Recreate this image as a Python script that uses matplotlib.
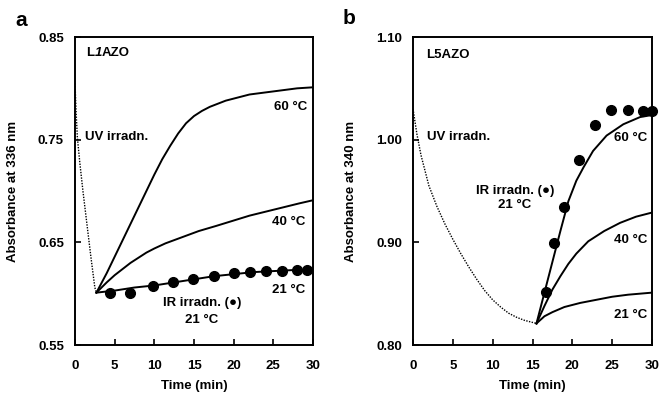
import matplotlib
matplotlib.use("Agg")
import matplotlib.pyplot as plt

plt.rcParams['font.family'] = ['Liberation Sans', 'DejaVu Sans']
plt.rcParams['font.weight'] = 'bold'

# ---- panel a: L1AZO, absorbance at 336 nm ----
a_uv_t = [0.0, 0.15, 0.3, 0.6, 1.0, 1.5, 2.0, 2.5, 2.7]
a_uv_v = [0.805, 0.775, 0.752, 0.728, 0.700, 0.668, 0.636, 0.606, 0.601]

a_60_t = [2.7, 4, 5, 6, 7, 8, 9, 10, 11, 12, 13, 14, 15, 16, 17, 18, 19, 20, 22, 25, 28, 30]
a_60_v = [0.601, 0.620, 0.636, 0.652, 0.668, 0.684, 0.700, 0.716, 0.731, 0.744,
          0.756, 0.766, 0.773, 0.778, 0.782, 0.785, 0.788, 0.790, 0.794, 0.797, 0.800, 0.801]

a_40_t = [2.7, 4, 5, 6, 7, 8, 9, 10, 11.4, 13.5, 15.6, 17.8, 19.9, 22, 24.1, 26.2, 28.3, 30]
a_40_v = [0.601, 0.611, 0.618, 0.624, 0.630, 0.635, 0.640, 0.644, 0.649, 0.655,
          0.661, 0.666, 0.671, 0.676, 0.680, 0.684, 0.688, 0.691]

a_21_t = [2.7, 5, 7.5, 10, 12.5, 15, 17.5, 20, 22.5, 25, 27.5, 30]
a_21_v = [0.601, 0.603, 0.606, 0.608, 0.611, 0.614, 0.617, 0.619, 0.621, 0.622, 0.623, 0.623]

a_ir_t = [4.4, 6.95, 9.8, 12.4, 14.9, 17.5, 20.1, 22.1, 24.1, 26.1, 28.0, 29.2]
a_ir_v = [0.601, 0.601, 0.607, 0.611, 0.614, 0.617, 0.620, 0.621, 0.622, 0.622, 0.623, 0.623]

# ---- panel b: L5AZO, absorbance at 340 nm ----
b_uv_t = [0, 0.5, 1, 2, 3, 4, 5, 6, 7, 8, 9, 10, 11, 12, 13, 14, 15, 15.5]
b_uv_v = [1.030, 1.005, 0.985, 0.955, 0.935, 0.918, 0.903, 0.889, 0.876, 0.864,
          0.853, 0.844, 0.837, 0.831, 0.827, 0.824, 0.822, 0.821]

b_60_t = [15.5, 16.5, 17.5, 18.5, 19.5, 20.5, 21.4, 22.6, 24.3, 26.4, 28.5, 30]
b_60_v = [0.821, 0.851, 0.881, 0.911, 0.940, 0.960, 0.973, 0.989, 1.004, 1.015, 1.022, 1.024]

b_40_t = [15.5, 16.5, 17.5, 18.5, 19.5, 20.5, 22, 24, 26, 28, 30]
b_40_v = [0.821, 0.838, 0.854, 0.867, 0.879, 0.889, 0.901, 0.911, 0.919, 0.925, 0.929]

b_21_t = [15.5, 16.5, 17.5, 19, 21, 23, 25, 27, 30]
b_21_v = [0.821, 0.828, 0.832, 0.837, 0.841, 0.844, 0.847, 0.849, 0.851]

b_ir_t = [16.65, 17.7, 18.9, 20.8, 22.9, 24.9, 26.95, 28.9, 30.0]
b_ir_v = [0.852, 0.899, 0.934, 0.980, 1.014, 1.029, 1.029, 1.028, 1.028]

x_ticks = [0, 5, 10, 15, 20, 25, 30]
a_yticks = [0.55, 0.65, 0.75, 0.85]
b_yticks = [0.80, 0.90, 1.00, 1.10]

W, H = 661, 396
fig = plt.figure(figsize=(W / 100, H / 100), dpi=100)
ax_a = fig.add_axes([75 / W, 51 / H, 238 / W, 308 / H])
ax_b = fig.add_axes([413 / W, 51 / H, 239 / W, 308 / H])


def style_axes(ax, yticks, ylabel):
    ax.set_xlim(0, 30)
    ax.set_ylim(yticks[0], yticks[-1])
    ax.set_xticks(x_ticks)
    ax.set_yticks(yticks)
    ax.set_yticklabels([f"{v:.2f}" for v in yticks])
    ax.tick_params(direction='in', length=4, width=1.2, labelsize=9.5)
    ax.tick_params(axis='y', pad=8)
    ax.tick_params(axis='x', pad=11)
    for s in ax.spines.values():
        s.set_linewidth(1.4)
    ax.set_xlabel('Time (min)', fontsize=9.5, fontweight='bold')
    ax.set_ylabel(ylabel, fontsize=9.5, fontweight='bold')
    ax.xaxis.set_label_coords(0.5, -0.115)
    ax.yaxis.set_label_coords(-0.235, 0.5)


def tag(ax, x, y, s, ha='left', **kw):
    ax.text(x, y, s, transform=ax.transAxes, ha=ha, va='center',
            fontsize=9.5, fontweight='bold', **kw)


# panel a
ax_a.plot(a_uv_t, a_uv_v, color='black', lw=1.0, ls=(0, (1, 1)))
ax_a.plot(a_60_t, a_60_v, color='black', lw=1.4)
ax_a.plot(a_40_t, a_40_v, color='black', lw=1.4)
ax_a.plot(a_21_t, a_21_v, color='black', lw=1.4)
ax_a.plot(a_ir_t, a_ir_v, 'o', color='black', ms=7, clip_on=False)
style_axes(ax_a, a_yticks, 'Absorbance at 336 nm')

# "L1AZO" with an italic 1
tag(ax_a, 0.046, 0.948, 'L')
tag(ax_a, 0.083, 0.948, '1', style='italic')
tag(ax_a, 0.112, 0.948, 'AZO')
tag(ax_a, 0.042, 0.675, 'UV irradn.')
tag(ax_a, 0.975, 0.773, '60 °C', ha='right')
tag(ax_a, 0.966, 0.400, '40 °C', ha='right')
tag(ax_a, 0.966, 0.179, '21 °C', ha='right')
tag(ax_a, 0.534, 0.136, 'IR irradn. (\u25cf)', ha='center')
tag(ax_a, 0.534, 0.081, '21 °C', ha='center')

# panel b
ax_b.plot(b_uv_t, b_uv_v, color='black', lw=1.0, ls=(0, (1, 1)))
ax_b.plot(b_60_t, b_60_v, color='black', lw=1.4)
ax_b.plot(b_40_t, b_40_v, color='black', lw=1.4)
ax_b.plot(b_21_t, b_21_v, color='black', lw=1.4)
ax_b.plot(b_ir_t, b_ir_v, 'o', color='black', ms=7, clip_on=False)
style_axes(ax_b, b_yticks, 'Absorbance at 340 nm')

tag(ax_b, 0.057, 0.942, 'L5AZO')
tag(ax_b, 0.058, 0.675, 'UV irradn.')
tag(ax_b, 0.979, 0.672, '60 °C', ha='right')
tag(ax_b, 0.427, 0.500, 'IR irradn. (\u25cf)', ha='center')
tag(ax_b, 0.427, 0.455, '21 °C', ha='center')
tag(ax_b, 0.979, 0.340, '40 °C', ha='right')
tag(ax_b, 0.979, 0.097, '21 °C', ha='right')

fig.text(21 / W, 1 - 20 / H, 'a', ha='center', va='center', fontsize=15, fontweight='bold')
fig.text(349 / W, 1 - 19 / H, 'b', ha='center', va='center', fontsize=15, fontweight='bold')

fig.savefig('out.png', dpi=100)
